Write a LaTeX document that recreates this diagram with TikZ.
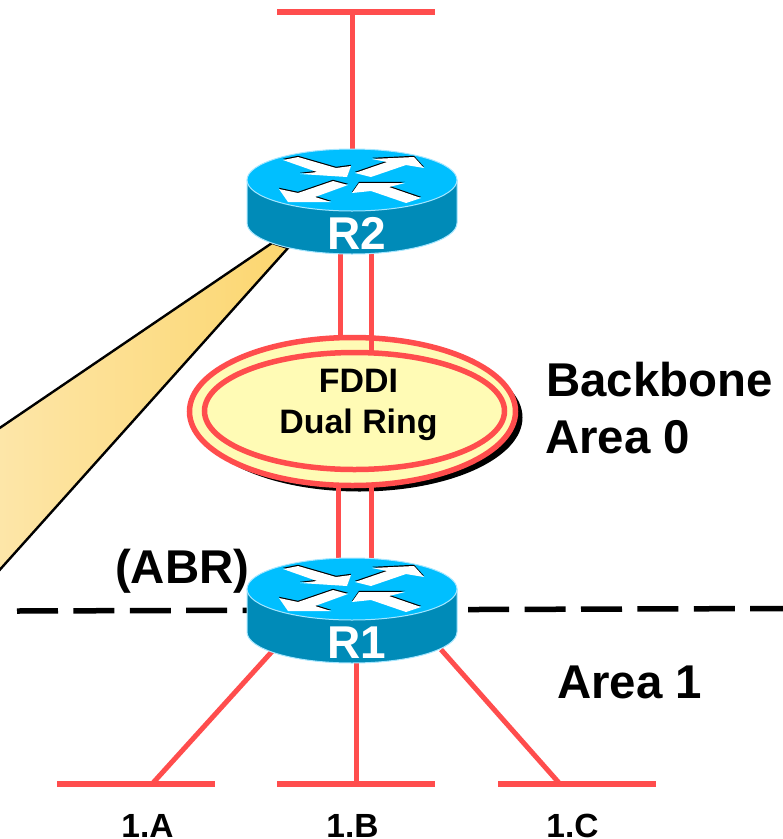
\documentclass[tikz,border=0pt]{standalone}
\usepackage{fontspec}
\setmainfont{Liberation Sans}
\usepackage{tikz}
\usetikzlibrary{shapes.geometric,shadows}
\definecolor{linkred}{HTML}{FF4D4D}
\definecolor{ringfill}{HTML}{FFFBB5}
\definecolor{routertop}{HTML}{00BFFF}
\definecolor{routerside}{HTML}{008BB8}
\definecolor{routerrim}{HTML}{A5E6FF}
\definecolor{wedgedark}{HTML}{FCD66F}
\definecolor{wedgelight}{HTML}{FDE6A9}
\tikzset{
  link/.style={draw=linkred,line width=5pt},
  lanbar/.style={fill=linkred,minimum width=158pt,minimum height=5.5pt,inner sep=0pt,outer sep=0pt},
  routerspot/.style={minimum width=210pt,minimum height=105pt,inner sep=0pt,outer sep=0pt},
  ringouter/.style={ellipse,draw=linkred,line width=5.5pt,fill=ringfill,inner sep=0pt,outer sep=0pt,
    minimum width=326pt,minimum height=148pt,
    drop shadow={shadow xshift=7pt,shadow yshift=-6pt,fill=black,opacity=1}},
  ringinner/.style={ellipse,draw=linkred,line width=5.5pt,inner sep=0pt,outer sep=0pt,
    minimum width=300pt,minimum height=117pt},
  ringlabel/.style={inner sep=0pt,align=center,font=\bfseries\fontsize{33.9}{41}\selectfont},
  biglabel/.style={inner sep=0pt,anchor=base west,font=\bfseries\fontsize{47.4}{57}\selectfont},
  lanlabel/.style={inner sep=0pt,anchor=base,font=\bfseries\fontsize{33.5}{40}\selectfont},
  pics/router/.style={code={
    \draw[routerrim,line width=1pt,fill=routerside] (-105,0) -- (-105,43) arc[start angle=180,end angle=360,x radius=105,y radius=-31] -- (105,0) -- cycle;
    \draw[routerrim,line width=1pt,fill=routertop] (0,0) ellipse[x radius=105,y radius=31];
    \foreach \yoff/\col in {1.2/black,0/white}{
      \begin{scope}[yshift=\yoff pt]
        \fill[\col] (-69,-20) -- (-54,-23) -- (-16,-12) -- (-1,-14) -- (-5,-3) -- (-52,-6) -- (-35,-8) -- cycle;
        \fill[\col] (3,-7) -- (35,-18) -- (20,-21) -- (62,-23) -- (72,-12) -- (54,-15) -- (19,-3) -- cycle;
        \fill[\col] (-73,9) -- (-54,13) -- (-19,1) -- (-4,5) -- (-37,17) -- (-21,22) -- (-64,22) -- cycle;
        \fill[\col] (0,13) -- (7,3) -- (53,3) -- (37,7) -- (69,18) -- (54,23) -- (19,11) -- cycle;
      \end{scope}}
    \node[inner sep=0pt,anchor=base,white,font=\bfseries\fontsize{46}{50}\selectfont] at (5,69.5) {#1};
  }}
}
\begin{document}
\begin{tikzpicture}[x=1pt,y=-1pt]
  \useasboundingbox (0,0) rectangle (783,839);
  \node(R2)[routerspot] at (352,201.5){};
  \node(R1)[routerspot,below of=R2,node distance=409pt]{};
  \node(lan0)[lanbar] at (356,12){};
  \node(lanA)[lanbar] at (135.5,784){};
  \node(lanB)[lanbar,right of=lanA,node distance=220.5pt]{};
  \node(lanC)[lanbar,right of=lanB,node distance=221pt]{};
  \coordinate(wedgeA) at (272,243);
  \coordinate(wedgeB) at (288,248);
  \coordinate(ringtopA) at (340,338);
  \coordinate(ringtopB) at (371.5,352);
  \coordinate(ringbotA) at (338,485);
  \coordinate(ringbotB) at (371.5,485);
  \coordinate(tapA) at (152,784);
  \coordinate(tapC) at (560,784);
  \draw[line width=2.4pt,left color=wedgelight,right color=wedgedark] (wedgeA) -- (-4,430.5) -- (-4,574) -- (wedgeB) -- cycle;
  \draw[line width=5.5pt,dash pattern=on 41pt off 15.4pt] (17,611) -- (783,608.5);
  \node(ring)[ringouter] at (352.5,411.5){};
  \node(ringin)[ringinner] at (354.5,411){};
  \node(ringtext)[ringlabel] at (358.5,405){FDDI\\Dual Ring};
  \draw[link] (R2.north) -- (R2.north |- lan0);
  \draw[link] (ringtopA) -- (ringtopA |- R2.south);
  \draw[link] (ringtopB) -- (ringtopB |- R2.south);
  \draw[link] (ringbotA) -- (ringbotA |- R1.north);
  \draw[link] (ringbotB) -- (ringbotB |- R1.north);
  \draw[link] ([shift={(-80,41)}]R1.center) -- (tapA);
  \draw[link] (R1.south -| lanB) -- (lanB);
  \draw[link] ([shift={(89,39)}]R1.center) -- (tapC);
  \pic at (352,180) {router=R2};
  \pic at (352,589) {router=R1};
  \node(backbone)[biglabel] at (546,396){Backbone};
  \node(area0)[biglabel] at (545,453){Area 0};
  \node(area1)[biglabel] at (557,698){Area 1};
  \node(abr)[biglabel] at (115,583){(ABR)};
  \node(labelA)[lanlabel] at (147.5,837.5){1.A};
  \node(labelB)[lanlabel] at (352.5,837.5){1.B};
  \node(labelC)[lanlabel] at (572.5,837.5){1.C};
\end{tikzpicture}
\end{document}
